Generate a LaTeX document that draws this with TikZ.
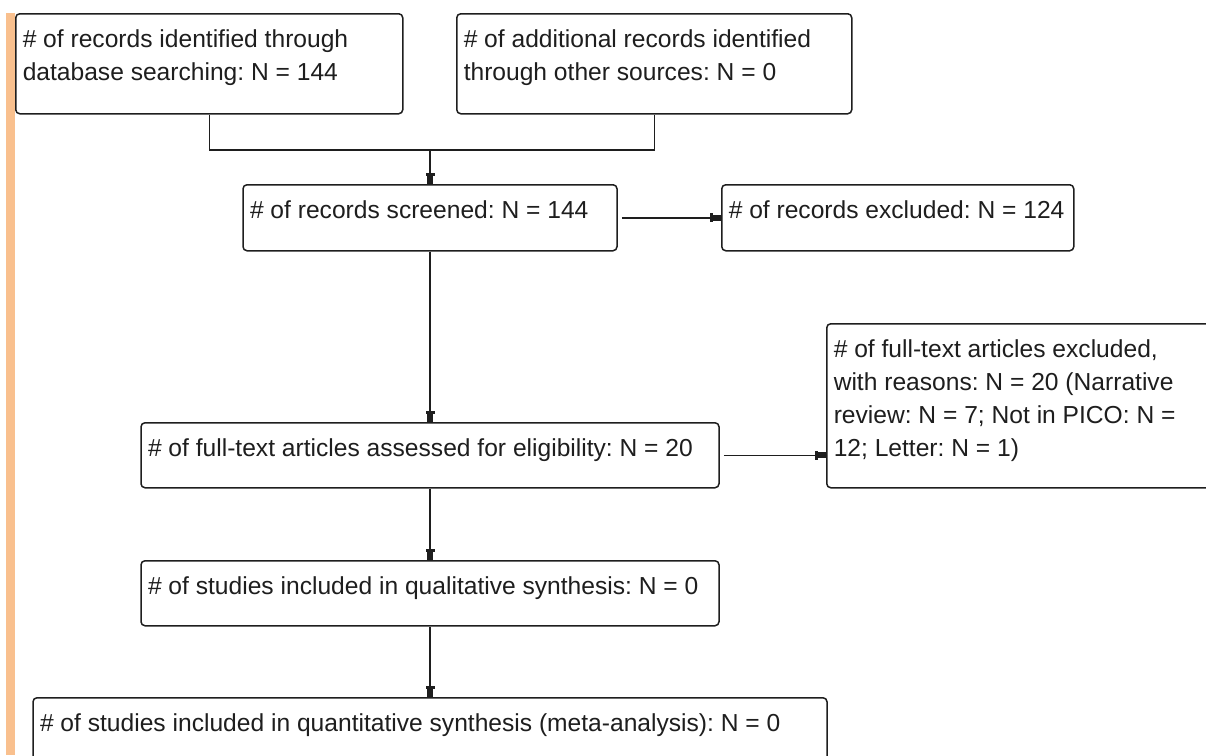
\documentclass[tikz,border=0pt]{standalone}
\usepackage{fontspec}
\setmainfont{Liberation Sans}
\usetikzlibrary{arrows.meta}
\definecolor{peach}{RGB}{249,192,142}
\definecolor{ink}{RGB}{30,30,30}
\newcommand{\boxtext}[3]{\parbox[c][#2][t]{#1}{\raggedright\frenchspacing\rule{0pt}{34pt}#3}}
\begin{document}
\begin{tikzpicture}[x=1pt,y=-1pt,
  box/.style={draw=ink, line width=1.5pt, rounded corners=4pt, inner xsep=7pt, inner ysep=0pt,
              fill=white, text=ink, font=\fontsize{24.6pt}{33pt}\selectfont},
  link/.style={draw=ink, line width=1.5pt},
  arr/.style={link, -{Rectangle[width=9pt,length=3pt] Rectangle[width=6pt,length=8pt]}}]
\useasboundingbox (0,0) rectangle (1206,755);
\clip (0,0) rectangle (1206,755);
\fill[peach] (6,13) rectangle (15,755);

\node[box, anchor=north west] (b1) at (15,13)
  {\boxtext{373pt}{100pt}{\# of records identified through\\database searching: N = 144}};
\node[box, anchor=north west] (b2) at (456,13)
  {\boxtext{381pt}{100pt}{\# of additional records identified\\through other sources: N = 0}};
\node[box, anchor=north] (b3) at (430,184)
  {\boxtext{360pt}{66pt}{\# of records screened: N = 144}};
\node[box, anchor=north west] (b4) at (721,184)
  {\boxtext{338pt}{66pt}{\# of records excluded: N = 124}};
\node[box, anchor=north] (b5) at (430,422)
  {\boxtext{564pt}{65pt}{\# of full-text articles assessed for eligibility: N = 20}};
\node[box, anchor=north west] (b6) at (826,323)
  {\boxtext{386pt}{164pt}{\# of full-text articles excluded,\\with reasons: N = 20 (Narrative\\review: N = 7; Not in PICO: N =\\12; Letter: N = 1)}};
\node[box, anchor=north] (b7) at (430,560)
  {\boxtext{564pt}{65pt}{\# of studies included in qualitative synthesis: N = 0}};
\node[box, anchor=north] (b8) at (430,697)
  {\boxtext{780pt}{66pt}{\# of studies included in quantitative synthesis (meta-analysis): N = 0}};

\coordinate (j) at (430,150);
\draw[link] (b1.south) |- (j);
\draw[link] (b2.south) |- (j);
\draw[arr] (j) -- (b3.north);
\draw[arr, shorten <=4pt] (b3.east) -- (b4.west);
\draw[arr] (b3.south) -- (b5.north);
\draw[arr, shorten <=4pt] (b5.east) -- (b5.east -| b6.west);
\draw[arr] (b5.south) -- (b7.north);
\draw[arr] (b7.south) -- (b8.north);
\end{tikzpicture}
\end{document}
